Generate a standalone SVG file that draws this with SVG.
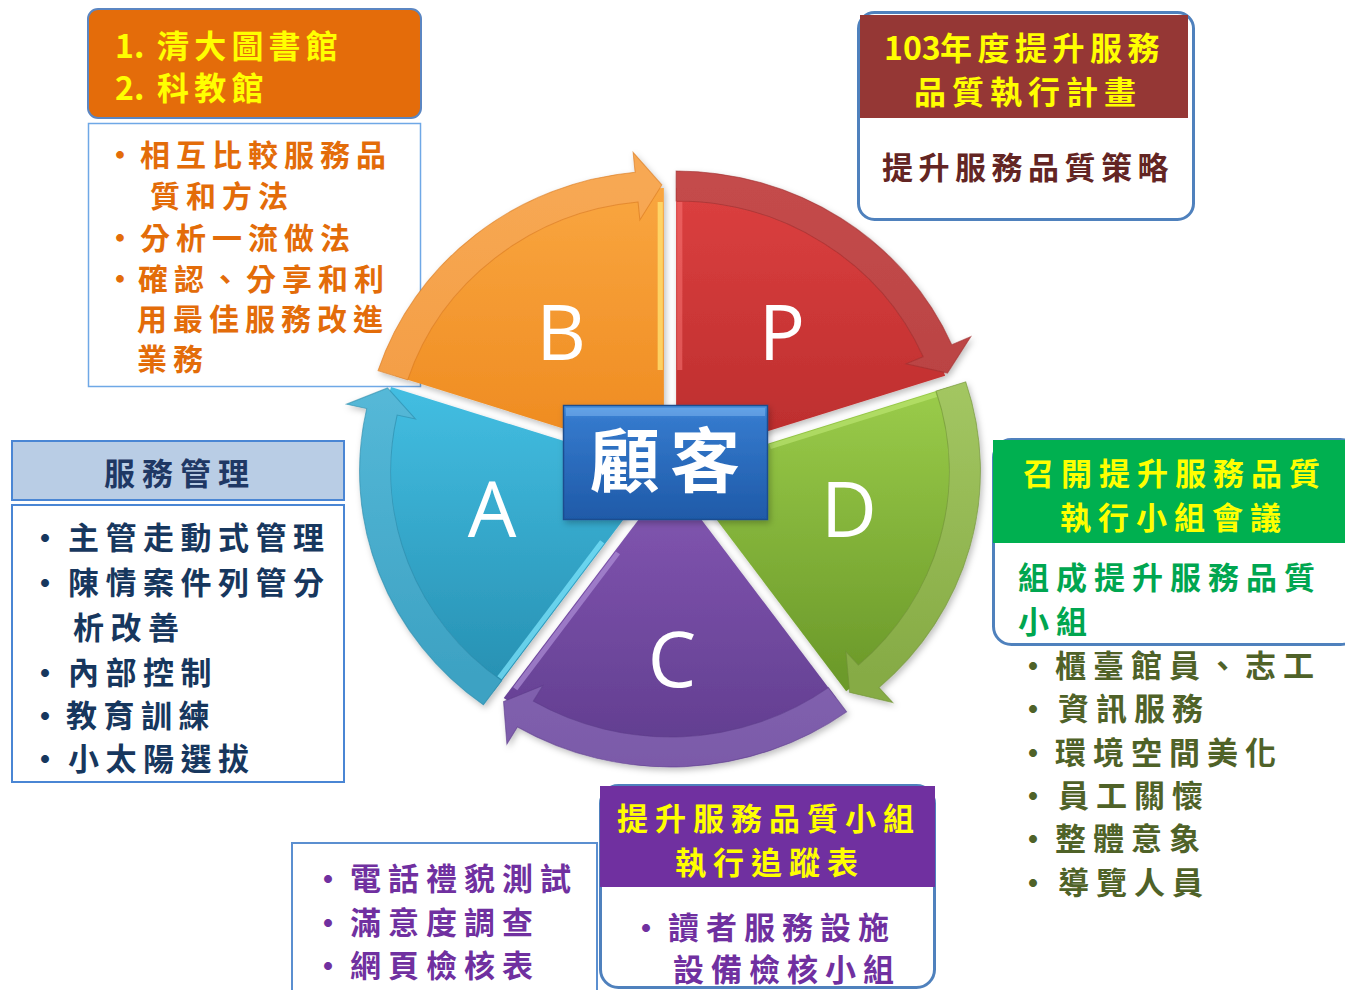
<svg xmlns="http://www.w3.org/2000/svg" xmlns:xlink="http://www.w3.org/1999/xlink" width="1345" height="990" viewBox="0 0 1345 990">
<style>
.cjk{font-family:"Noto Sans CJK TC","Noto Sans CJK SC",sans-serif;font-weight:700;}
.hy{fill:#FFFF00;}
.s30{font-size:30px;letter-spacing:6px;}
.s31{font-size:31px;letter-spacing:7px;}
.s32{font-size:32px;}
.let{font-family:"Open Sans","Liberation Sans",sans-serif;font-size:77px;fill:#fff;text-anchor:middle;}
.bandline{stroke-width:1;stroke-opacity:0.6;}
</style>
<defs>
<path id="wedge" d="M0,0 L-159.88,-220.05 A272,272 0 0 1 159.88,-220.05 Z"/>
<path id="band" d="M-169.87,-233.81 A289,289 0 0 1 146.68,-249.01 L156.83,-266.24 L160.08,-223.60 L122.32,-207.65 L131.45,-223.16 A259,259 0 0 0 -152.24,-209.54 Z"/>
<linearGradient id="gB" gradientUnits="userSpaceOnUse" x1="94" y1="-269.4" x2="-94" y2="-10.6"><stop offset="0" stop-color="#F9A640"/><stop offset="1" stop-color="#EC8418"/></linearGradient>
<linearGradient id="gBb" gradientUnits="userSpaceOnUse" x1="94" y1="-269.4" x2="-94" y2="-10.6"><stop offset="0" stop-color="#F7A853"/><stop offset="1" stop-color="#F2983E"/></linearGradient>
<linearGradient id="gP" gradientUnits="userSpaceOnUse" x1="-94" y1="-269.4" x2="94" y2="-10.6"><stop offset="0" stop-color="#DC4040"/><stop offset="1" stop-color="#B42929"/></linearGradient>
<linearGradient id="gPb" gradientUnits="userSpaceOnUse" x1="-94" y1="-269.4" x2="94" y2="-10.6"><stop offset="0" stop-color="#C44B4B"/><stop offset="1" stop-color="#B43E3E"/></linearGradient>
<linearGradient id="gD" gradientUnits="userSpaceOnUse" x1="-152.2" y1="-90.6" x2="152.2" y2="-189.4"><stop offset="0" stop-color="#A0D24E"/><stop offset="1" stop-color="#6C9A2A"/></linearGradient>
<linearGradient id="gDb" gradientUnits="userSpaceOnUse" x1="-152.2" y1="-90.6" x2="152.2" y2="-189.4"><stop offset="0" stop-color="#A6C965"/><stop offset="1" stop-color="#86AB45"/></linearGradient>
<linearGradient id="gC" gradientUnits="userSpaceOnUse" x1="0" y1="20" x2="0" y2="-300"><stop offset="0" stop-color="#8659B5"/><stop offset="1" stop-color="#5E3B8C"/></linearGradient>
<linearGradient id="gCb" gradientUnits="userSpaceOnUse" x1="0" y1="20" x2="0" y2="-300"><stop offset="0" stop-color="#9072BC"/><stop offset="1" stop-color="#7A59A8"/></linearGradient>
<linearGradient id="gA" gradientUnits="userSpaceOnUse" x1="152.2" y1="-90.6" x2="-152.2" y2="-189.4"><stop offset="0" stop-color="#46C3E7"/><stop offset="1" stop-color="#2892B4"/></linearGradient>
<linearGradient id="gAb" gradientUnits="userSpaceOnUse" x1="152.2" y1="-90.6" x2="-152.2" y2="-189.4"><stop offset="0" stop-color="#58BBDA"/><stop offset="1" stop-color="#3DA2C3"/></linearGradient>
<linearGradient id="gCenter" x1="0" y1="0" x2="0" y2="1"><stop offset="0" stop-color="#4C94E0"/><stop offset="0.12" stop-color="#3479CC"/><stop offset="1" stop-color="#1F5AA8"/></linearGradient>
<filter id="sh" x="-10%" y="-10%" width="130%" height="130%"><feDropShadow dx="2" dy="3" stdDeviation="3" flood-color="#000" flood-opacity="0.25"/></filter>
</defs>
<rect width="1345" height="990" fill="#fff"/>

<g id="box-benchmark">
<rect x="88" y="9" width="333" height="109" rx="10" fill="#E46C0A" stroke="#5B86C2" stroke-width="2"/>
<text class="cjk s32 hy" y="58"><tspan x="115">1.</tspan><tspan x="157" letter-spacing="5.2">清大圖書館</tspan></text>
<text class="cjk s32 hy" y="100"><tspan x="115">2.</tspan><tspan x="157" letter-spacing="5.2">科教館</tspan></text>
<rect x="88.5" y="123.5" width="332" height="263" fill="#fff" stroke="#6FA8E6" stroke-width="1.5"/>
<g class="cjk s30" fill="#E36C09">
<text y="166"><tspan x="105">‧</tspan><tspan x="140">相互比較服務品</tspan></text>
<text x="150" y="207">質和方法</text>
<text y="249"><tspan x="105">‧</tspan><tspan x="140">分析一流做法</tspan></text>
<text y="290"><tspan x="105">‧</tspan><tspan x="138">確認、分享和利</tspan></text>
<text x="137" y="330">用最佳服務改進</text>
<text x="137" y="370">業務</text>
</g>
</g>

<g id="box-plan">
<rect x="858.5" y="12.5" width="335" height="207" rx="16" fill="#fff" stroke="#4F81BD" stroke-width="3"/>
<rect x="860" y="15" width="328" height="103" fill="#953735"/>
<text class="cjk s32 hy" y="60"><tspan x="884">103</tspan><tspan x="940" letter-spacing="5.5">年度提升服務</tspan></text>
<text class="cjk s32 hy" x="914" y="104" letter-spacing="6">品質執行計畫</text>
<text class="cjk" x="882" y="179" font-size="31" letter-spacing="5.5" fill="#632523">提升服務品質策略</text>
</g>

<g id="box-management">
<rect x="12" y="441" width="332" height="59" fill="#B9CDE5" stroke="#4A86D4" stroke-width="2"/>
<text class="cjk s31" x="104" y="485" fill="#1F3864">服務管理</text>
<rect x="12" y="505" width="332" height="277" fill="#fff" stroke="#4A86D4" stroke-width="2"/>
<g class="cjk" font-size="31" letter-spacing="6.5" fill="#17375E">
<text y="549"><tspan x="29.5">‧</tspan><tspan x="68">主管走動式管理</tspan></text>
<text y="594"><tspan x="29.5">‧</tspan><tspan x="68">陳情案件列管分</tspan></text>
<text x="73" y="639">析改善</text>
<text y="684"><tspan x="29.5">‧</tspan><tspan x="68">內部控制</tspan></text>
<text y="727"><tspan x="29.5">‧</tspan><tspan x="66">教育訓練</tspan></text>
<text y="770"><tspan x="29.5">‧</tspan><tspan x="68">小太陽選拔</tspan></text>
</g>
</g>

<g id="box-do">
<rect x="993.5" y="439.5" width="365" height="205" rx="18" fill="#fff" stroke="#4F81BD" stroke-width="3"/>
<rect x="993" y="440" width="352" height="103" fill="#00B050"/>
<text class="cjk s31 hy" x="1023" y="485">召開提升服務品質</text>
<text class="cjk s31 hy" x="1060" y="529">執行小組會議</text>
<text class="cjk s31" x="1018" y="589" fill="#00A650">組成提升服務品質</text>
<text class="cjk s31" x="1018" y="633" fill="#00A650">小組</text>
</g>

<g id="list-do" class="cjk s31" fill="#4F6228">
<text y="677"><tspan x="1017.5">‧</tspan><tspan x="1055">櫃臺館員、志工</tspan></text>
<text y="720"><tspan x="1017.5">‧</tspan><tspan x="1058">資訊服務</tspan></text>
<text y="764"><tspan x="1017.5">‧</tspan><tspan x="1055">環境空間美化</tspan></text>
<text y="807"><tspan x="1017.5">‧</tspan><tspan x="1058">員工關懷</tspan></text>
<text y="850"><tspan x="1017.5">‧</tspan><tspan x="1055">整體意象</tspan></text>
<text y="894"><tspan x="1017.5">‧</tspan><tspan x="1058">導覽人員</tspan></text>
</g>

<g id="box-check">
<rect x="600.5" y="785.5" width="334" height="202" rx="18" fill="#fff" stroke="#4F81BD" stroke-width="3"/>
<rect x="600" y="786" width="335" height="101" fill="#7030A0"/>
<text class="cjk s31 hy" x="617" y="830">提升服務品質小組</text>
<text class="cjk s31 hy" x="675" y="874">執行追蹤表</text>
<text class="cjk s31" y="939" fill="#7030A0"><tspan x="630.5">‧</tspan><tspan x="668">讀者服務設施</tspan></text>
<text class="cjk s31" x="673" y="981" fill="#7030A0">設備檢核小組</text>
</g>

<g id="box-survey">
<rect x="292" y="843" width="305" height="152" fill="#fff" stroke="#5B8FD0" stroke-width="2"/>
<g class="cjk s31" fill="#7030A0">
<text y="890"><tspan x="312.5">‧</tspan><tspan x="350">電話禮貌測試</tspan></text>
<text y="934"><tspan x="312.5">‧</tspan><tspan x="350">滿意度調查</tspan></text>
<text y="977"><tspan x="312.5">‧</tspan><tspan x="350">網頁檢核表</tspan></text>
</g>
</g>

<g id="cycle" filter="url(#sh)">
<g id="seg-B" transform="translate(670,468) scale(1.04,1) rotate(-36) translate(0,-10)">
<use xlink:href="#wedge" fill="url(#gB)"/>
<line x1="50.07" y1="-74.86" x2="148.82" y2="-210.79" stroke="#FFE070" stroke-width="5" stroke-opacity="0.8"/>
<use xlink:href="#band" fill="url(#gBb)" stroke="#D9781C" class="bandline"/>
</g>
<g id="seg-P" transform="translate(670,468) scale(1.04,1) rotate(36) translate(0,-10)">
<use xlink:href="#wedge" fill="url(#gP)"/>
<line x1="-50.07" y1="-74.86" x2="-148.82" y2="-210.79" stroke="#FF8080" stroke-width="5" stroke-opacity="0.45"/>
<use xlink:href="#band" fill="url(#gPb)" stroke="#9E2E2E" class="bandline"/>
</g>
<g id="seg-D" transform="translate(670,468) scale(1.04,1) rotate(108) translate(0,-10)">
<use xlink:href="#wedge" fill="url(#gD)"/>
<line x1="-50.07" y1="-74.86" x2="-148.82" y2="-210.79" stroke="#C8F080" stroke-width="5" stroke-opacity="0.5"/>
<use xlink:href="#band" fill="url(#gDb)" stroke="#6E8F35" class="bandline"/>
</g>
<g id="seg-C" transform="translate(670,468) scale(1.04,1) rotate(180) translate(0,-10)">
<use xlink:href="#wedge" fill="url(#gC)"/>
<line x1="50.07" y1="-74.86" x2="148.82" y2="-210.79" stroke="#B89AE0" stroke-width="5" stroke-opacity="0.6"/>
<use xlink:href="#band" fill="url(#gCb)" stroke="#5E3E8A" class="bandline"/>
</g>
<g id="seg-A" transform="translate(670,468) scale(1.04,1) rotate(252) translate(0,-10)">
<use xlink:href="#wedge" fill="url(#gA)"/>
<line x1="-50.07" y1="-74.86" x2="-148.82" y2="-210.79" stroke="#80E8FF" stroke-width="5" stroke-opacity="0.7"/>
<use xlink:href="#band" fill="url(#gAb)" stroke="#2A88A8" class="bandline"/>
</g>
</g>

<g id="letters">
<text class="let" x="561" y="360">B</text>
<text class="let" x="782" y="360">P</text>
<text class="let" x="849" y="537">D</text>
<text class="let" x="672" y="687">C</text>
<text class="let" x="492" y="537">A</text>
</g>

<g id="center" filter="url(#sh)">
<rect x="563.5" y="405.5" width="204" height="114" fill="url(#gCenter)" stroke="#1C4E8E" stroke-width="1.5"/>
<rect x="566" y="408" width="199" height="8" fill="#7AB2EE" opacity="0.55"/>
<text class="cjk" x="590" y="487" font-size="70" letter-spacing="10" fill="#fff">顧客</text>
</g>
</svg>
